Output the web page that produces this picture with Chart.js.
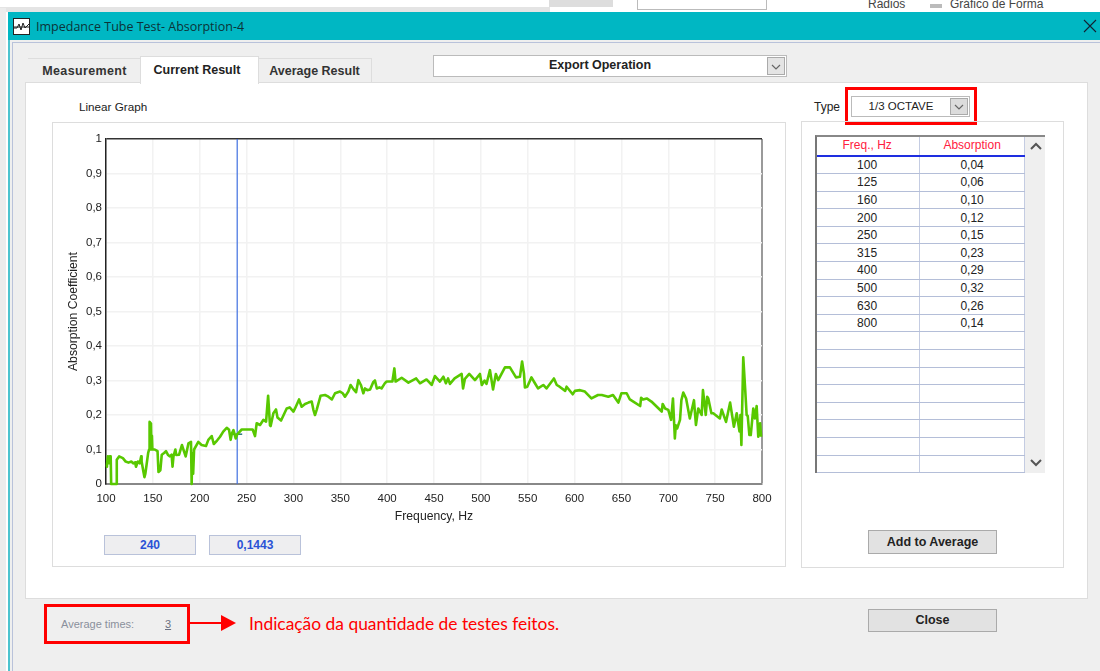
<!DOCTYPE html>
<html>
<head>
<meta charset="utf-8">
<title>Impedance Tube Test</title>
<script src="https://cdn.jsdelivr.net/npm/chart.js@4"></script>
<style>
html, body { margin: 0; padding: 0; background: #fff; }
body { width: 1100px; height: 671px; overflow: hidden; position: relative; font-family: "Liberation Sans", Arial, sans-serif; font-size: 12px; color: #222; }
.box { position: absolute; box-sizing: border-box; }
.txt { position: absolute; white-space: nowrap; }
.btn { position: absolute; box-sizing: border-box; background: #e2e2e2; border: 1px solid #aaa; font-weight: bold; font-size: 12.5px; text-align: center; color: #222; }
.tab { position: absolute; box-sizing: border-box; font-weight: bold; font-size: 12.5px; text-align: center; color: #333; }
.val { position: absolute; box-sizing: border-box; background: #eeeef0; border: 1px solid #b9c2da; color: #2a52d6; font-weight: bold; text-align: center; font-size: 12px; }
#freqTable { position: absolute; left: 815px; top: 135px; width: 210px; border-collapse: collapse; table-layout: fixed; background: #fff; }
#freqTable td, #freqTable th { box-sizing: border-box; height: 17.6px; padding: 0; text-align: center; font-weight: normal; font-size: 12px; border-bottom: 1px solid #b4bed8; border-right: 1px solid #c4cce2; line-height: 14px; }
#freqTable th { color: #ff2040; height: 21px; border-bottom: 2px solid #1e2ee0; }
</style>
</head>
<body>

<!-- what is left of the window behind -->
<div class="box" style="left:0;top:7px;width:550px;height:5px;background:#e4e4e4"></div>
<div class="box" style="left:0;top:0;width:1100px;height:12px;overflow:hidden">
  <div class="box" style="left:549px;top:0;width:64px;height:7px;background:#ddd"></div>
  <div class="box" style="left:637px;top:0;width:130px;height:10px;border:1px solid #bbb;border-top:0"></div>
  <div class="txt" style="left:868px;top:-3px;font-size:12px;color:#444">Rádios</div>
  <div class="box" style="left:930px;top:4px;width:12px;height:4px;background:#bbb"></div>
  <div class="txt" style="left:950px;top:-3px;font-size:12px;color:#444">Gráfico de Forma</div>
</div>
<div class="box" style="left:0;top:8px;width:6px;height:663px;background:#ececec"></div>

<!-- dialog -->
<div class="box" style="left:8px;top:12px;width:1092px;height:659px;background:#efefef;border-left:2px solid #4cc4cf"></div>
<div class="box" style="left:12px;top:42px;width:1088px;height:629px;border-left:1px solid #b9c2da;border-top:1px solid #b9c2da"></div>
<div class="box" style="left:8px;top:12px;width:1092px;height:28px;background:#00b7c3"></div>
<div class="box" style="left:13px;top:18px;width:17px;height:17px;background:#fff;border:1px solid #222">
  <svg width="15" height="15"><path d="M0 9 L3 9 L5 5 L7 11 L9 4 L11 9 L15 5" fill="none" stroke="#222"/><path d="M0 8 H15" stroke="#222"/></svg>
</div>
<div class="txt" style="left:36px;top:18px;font-family:'Open Sans',sans-serif;font-size:12.5px;color:#0c3338">Impedance Tube Test- Absorption-4</div>
<svg class="box" style="left:1083px;top:19px" width="14" height="14"><path d="M1 1 L13 13 M13 1 L1 13" stroke="#123" stroke-width="1.1" fill="none"/></svg>

<!-- tabs and panels -->
<div class="tab" style="left:28px;top:58px;width:113px;height:25px;line-height:24px;border-top:1px solid #ddd;letter-spacing:.35px">Measurement</div>
<div class="tab" style="left:258px;top:58px;width:114px;height:25px;line-height:24px;border-top:1px solid #ddd;border-right:1px solid #ddd">Average Result</div>
<div class="box" style="left:25px;top:82px;width:1063px;height:517px;background:#fff;border:1px solid #ddd"></div>
<div class="tab" style="left:140px;top:56px;width:119px;height:28px;line-height:27px;background:#fff;border:1px solid #ddd;border-bottom:0;color:#222;padding-right:5px">Current Result</div>

<div class="box" style="left:433px;top:55px;width:354px;height:22px;background:#fff;border:1px solid #bbb"></div>
<div class="txt" style="left:433px;top:58px;width:334px;text-align:center;font-weight:bold;font-size:12.5px">Export Operation</div>
<svg class="box" style="left:767px;top:57px" width="18" height="18"><rect x=".5" y=".5" width="17" height="17" fill="#e4e4e4" stroke="#aaa"/><path d="M5 8 L9 12 L13 8" fill="none" stroke="#666" stroke-width="1.2"/></svg>

<div class="txt" style="left:79px;top:100px;font-size:11.7px">Linear Graph</div>

<div class="box" style="left:52px;top:122px;width:734px;height:445px;border:1px solid #ddd"></div>
<div class="box" style="left:52px;top:122px;width:734px;height:445px">
  <canvas id="curveChart" width="734" height="445" style="display:block;width:734px;height:445px"></canvas>
</div>

<div class="val" style="left:104px;top:535px;width:92px;height:20px;line-height:19px">240</div>
<div class="val" style="left:209px;top:535px;width:92px;height:20px;line-height:19px">0,1443</div>

<!-- right side -->
<div class="txt" style="left:814px;top:100px">Type</div>
<div class="box" style="left:845px;top:87px;width:132px;height:38px;border:3px solid #ff0000"></div>
<div class="box" style="left:851px;top:96px;width:119px;height:21px;border:1px solid #bbb;background:#fff"></div>
<div class="txt" style="left:851px;top:100px;width:100px;text-align:center;font-size:11.5px">1/3 OCTAVE</div>
<svg class="box" style="left:950px;top:98px" width="18" height="17"><rect x=".5" y=".5" width="17" height="16" fill="#dcdcdc" stroke="#aaa"/><path d="M5 7 L9 11 L13 7" fill="none" stroke="#666" stroke-width="1.2"/></svg>

<div class="box" style="left:801px;top:121px;width:263px;height:447px;border:1px solid #ddd"></div>
<div class="box" style="left:815px;top:135px;width:230px;height:338px;background:#efefef"></div>
<table id="freqTable"></table>
<div class="box" style="left:815px;top:135px;width:230px;height:338px;border-left:2px solid #777;border-top:2px solid #888"></div>
<svg class="box" style="left:1029px;top:141px" width="14" height="10"><path d="M2 8 L7 3 L12 8" fill="none" stroke="#555" stroke-width="2"/></svg>
<svg class="box" style="left:1029px;top:458px" width="14" height="10"><path d="M2 2 L7 7 L12 2" fill="none" stroke="#555" stroke-width="2"/></svg>

<div class="btn" style="left:868px;top:530px;width:129px;height:24px;line-height:23px">Add to Average</div>
<div class="btn" style="left:868px;top:609px;width:129px;height:23px;line-height:21px">Close</div>

<!-- annotation -->
<div class="box" style="left:44px;top:604px;width:146px;height:40px;border:3px solid #ff0000"></div>
<div class="txt" style="left:61px;top:618px;font-size:11px;color:#8a8f9c">Average times:</div>
<div class="txt" style="left:165px;top:618px;font-size:11px;color:#6c7282;text-decoration:underline">3</div>
<div class="box" style="left:190px;top:622px;width:32px;height:2px;background:#ff0000"></div>
<svg class="box" style="left:221px;top:615px" width="18" height="17"><path d="M0 0 L15 8 L0 16 Z" fill="#ff0000"/></svg>
<div class="txt" style="left:249px;top:613px;font-family:Lato,sans-serif;font-size:17.4px;color:#ff0000">Indicação da quantidade de testes feitos.</div>

<script>
// (Hz / absorption coefficient)
var curveFreq = [100,101,102,103,104,105,105.5,111,111.5,114,118,121,124,127,129,131,132,134,136,137.5,138,140,141,142,143,145,146,146.5,148,148.5,149,149.5,152,155,156,158,159.5,162,164,166,168,170,171,172,174,175,178,181,185,188,190.7,191.4,192,193,194,198.5,
    202,206.7,209.2,212.8,215,218.5,221.7,225.1,228.8,231.3,233,234.4,236,238.4,240,
    244.8,256.5,259,260.8,264.4,268,270.8,273,275,275.7,278.6,281.4,283,286.8,292.8,296,300,
    301.7,306,307.8,308.8,312.4,316,319.5,321.3,323,324.8,329,333.7,337.3,341,344.4,349.7,352.6,355,358.6,361,364,366.8,369.3,372,374.6,376.4,378.9,381.8,385.3,387,389,391.7,394,397.8,399.5,405.6,
    407.7,409,415.5,422.7,431,435,442,447.5,451,456.3,460,462.7,465,467,472,479.5,481,483,487.6,493.7,499,501,504,506,509.7,513,516,518.5,525.7,531,537.5,541.7,544,546,547,549.5,554,557.7,561,566.6,570,578,581,584,590,591.5,598,600.4,605.8,611,618,625,629,636,641,646.7,650,655.6,659,662.7,670,671,673,677,682,693,694,696.5,700,703,705,707,708,709.5,712.5,714,716,719,723,727.4,729.5,732,735.6,737,740,741.5,742.7,746,748,755,757,761.6,766,770,773,776,777,778,780,782,783.6,784.8,786.5,788,790.7,792.5,794.3,796,798,799,800];
var curveAbs = [0.05,0.055,0.08,0.06,0.08,0.08,0,0,0.07,0.08,0.075,0.065,0.062,0.065,0.06,0.063,0.05,0.065,0.06,0.08,0.065,0.035,0.02,0.03,0.05,0.09,0.1,0.18,0.175,0.1,0.14,0.1,0.1,0.095,0.035,0.04,0.085,0.09,0.095,0.085,0.08,0.085,0.05,0.08,0.1,0.084,0.085,0.113,0.08,0.118,0.122,0,0.09,0.03,0.1,0.122,
    0.113,0.11,0.128,0.139,0.116,0.126,0.137,0.152,0.163,0.157,0.128,0.147,0.156,0.132,0.144,
    0.158,0.158,0.139,0.176,0.171,0.186,0.181,0.256,0.17,0.168,0.205,0.216,0.193,0.184,0.219,0.222,0.21,
    0.219,0.245,0.231,0.224,0.232,0.236,0.239,0.215,0.2,0.215,0.256,0.258,0.253,0.245,0.263,0.268,0.263,0.253,0.268,0.287,0.275,0.266,0.301,0.287,0.263,0.277,0.272,0.274,0.296,0.3,0.277,0.28,0.277,0.293,0.297,0.297,
    0.335,0.297,0.308,0.294,0.306,0.292,0.303,0.287,0.313,0.297,0.311,0.292,0.306,0.29,0.306,0.319,0.277,0.305,0.319,0.301,0.319,0.287,0.3,0.29,0.33,0.274,0.319,0.301,0.338,0.338,0.309,0.311,0.355,0.32,0.28,0.282,0.309,0.292,0.277,0.287,0.277,0.306,0.287,0.282,0.27,0.282,0.26,0.27,0.272,0.268,0.248,0.258,0.258,0.253,0.258,0.236,0.263,0.263,0.245,0.239,0.226,0.25,0.245,0.248,0.239,0.21,0.232,0.219,0.215,0.186,0.248,0.132,0.17,0.161,0.186,0.243,0.265,0.248,0.19,0.243,0.171,0.219,0.2,0.272,0.2,0.253,0.248,0.205,0.205,0.19,0.216,0.18,0.236,0.166,0.205,0.152,0.2,0.113,0.367,0.277,0.2,0.197,0.142,0.142,0.219,0.19,0.226,0.137,0.176,0.137];

var cursorFreq = 240;
var cursorAbs = 0.1443;

var bandFreq = ['100','125','160','200','250','315','400','500','630','800'];
var bandAbs = ['0,04','0,06','0,10','0,12','0,15','0,23','0,29','0,32','0,26','0,14'];
var blankRows = 8;

// table on the right
var html = '<tr><th>Freq., Hz</th><th>Absorption</th></tr>';
for (var i = 0; i < bandFreq.length; i++) {
    html += '<tr><td>' + bandFreq[i] + '</td><td>' + bandAbs[i] + '</td></tr>';
}
for (var j = 0; j < blankRows; j++) {
    html += '<tr><td></td><td></td></tr>';
}
document.getElementById('freqTable').innerHTML = html;

var ctx = document.getElementById('curveChart').getContext('2d');
var chart1 = new Chart(ctx, {
    type: 'scatter',
    data: {
        datasets: [{
            data: curveFreq.map((f, i) => ({ x: f, y: curveAbs[i] })),
            showLine: true,
            borderColor: '#58c800',
            borderWidth: 2.6,
            borderJoinStyle: 'round',
            pointRadius: 0,
            tension: 0,
            clip: 2
        }, {
            // blue cursor line
            data: [{ x: cursorFreq, y: 0 }, { x: cursorFreq, y: 1 }],
            showLine: true,
            borderColor: '#3f6fe0',
            borderWidth: 1.2,
            pointRadius: 0
        }, {
            // small tick where the cursor meets the curve
            data: [{ x: cursorFreq, y: cursorAbs }],
            pointStyle: 'line',
            pointRadius: 5,
            borderColor: '#2c7a80',
            borderWidth: 1.5
        }]
    },
    options: {
        responsive: false,
        animation: false,
        layout: { padding: { left: 14, top: 17, right: 24, bottom: 43 } },
        scales: {
            x: {
                type: 'linear',
                min: 100,
                max: 800,
                grid: {
                    color: ctx => ctx.tick.value === 800 ? '#9a9a9a' : '#f2f2f2',
                    lineWidth: ctx => ctx.tick.value === 800 ? 2 : 1.5,
                    drawTicks: false
                },
                border: { color: '#888', width: 2 },
                ticks: { stepSize: 50, color: '#222', font: { family: 'Liberation Sans', size: 11.5 }, padding: 8, maxRotation: 0 },
                title: { display: true, text: 'Frequency, Hz', color: '#222', font: { family: 'Liberation Sans', size: 12.2 }, padding: { top: 2, bottom: 0 } },
                afterFit: function (scale) { scale.height = 40; }
            },
            y: {
                min: 0,
                max: 1,
                grid: {
                    color: ctx => ctx.tick.value === 1 ? '#333' : '#f2f2f2',
                    lineWidth: 1.5,
                    drawTicks: false
                },
                border: { color: '#222', width: 1.5 },
                ticks: {
                    stepSize: 0.1,
                    color: '#222',
                    font: { family: 'Liberation Sans', size: 11.5 },
                    padding: 4,
                    callback: v => String(Math.round(v * 10) / 10).replace('.', ',')
                },
                title: { display: true, text: 'Absorption Coefficient', color: '#222', font: { family: 'Liberation Sans', size: 12.2 }, padding: { top: 0, bottom: 2 } },
                afterFit: function (scale) { scale.width = 40; }
            }
        },
        plugins: {
            legend: { display: false },
            tooltip: { enabled: false }
        }
    }
});
</script>
</body>
</html>
